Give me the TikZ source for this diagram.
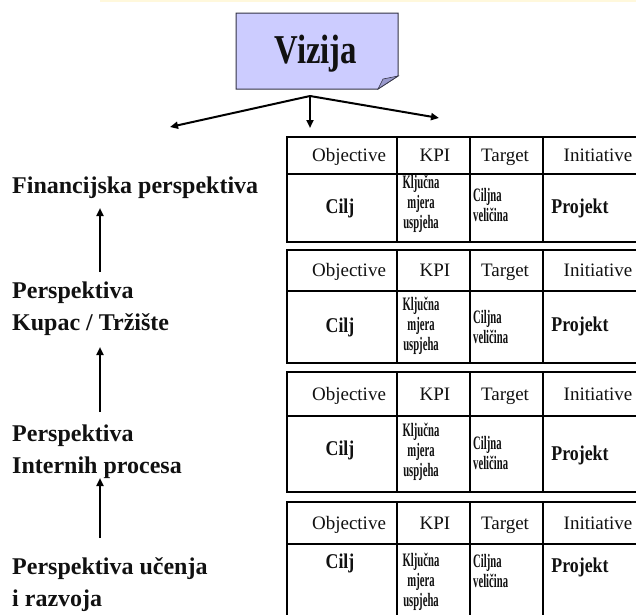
\documentclass[tikz,border=0pt]{standalone}
\usepackage{fontspec}
\setmainfont{Liberation Serif}
\newfontfamily\fcond[FakeStretch=0.56]{Liberation Serif}
\newfontfamily\fmed[FakeStretch=0.85]{Liberation Serif}
\newfontfamily\fviz[FakeStretch=0.8]{Liberation Serif}
\usetikzlibrary{arrows.meta}
\definecolor{vizfill}{HTML}{CCCCFF}
\definecolor{vizfold}{HTML}{9999CC}
\definecolor{vizline}{HTML}{333344}
\definecolor{strip}{HTML}{FFF8DC}
\definecolor{ink}{HTML}{111111}
\tikzset{
  hdr/.style={anchor=base, inner sep=0pt, text=ink, font=\fontsize{19}{22}\selectfont},
  bigcell/.style={inner sep=0pt, text=ink, font=\fmed\bfseries\fontsize{21}{24}\selectfont},
  smallcell/.style={inner sep=0pt, text=ink, font=\fcond\bfseries\fontsize{19}{20}\selectfont},
  persp/.style={anchor=base west, align=left, inner sep=0pt, text=ink, font=\bfseries\fontsize{24}{32}\selectfont},
  conn/.style={line width=2pt, -{Triangle[width=7pt,length=8pt]}},
  outerline/.style={line width=2.6pt},
  innerline/.style={line width=2pt},
}
% #1 prefix, #2 top, #3 mid, #4 bottom, #5 y Cilj, #6 y KPI, #7 y Target, #8 y Projekt
\newcommand\bsctable[8]{%
  \draw[innerline] (397,#2) -- (397,#4) (470,#2) -- (470,#4) (543,#2) -- (543,#4) (287,#3) -- (640,#3);
  \draw[outerline] (287,#2) rectangle (640,#4);
  \node[hdr] (#1obj) at (349,{(#2+#3)/2+6}) {Objective};
  \node[hdr] (#1kpi) at (435,{(#2+#3)/2+6}) {KPI};
  \node[hdr] (#1tgt) at (505,{(#2+#3)/2+6}) {Target};
  \node[hdr] (#1ini) at (598,{(#2+#3)/2+6}) {Initiative};
  \node[bigcell] (#1cilj) at (340,#5) {Cilj};
  \node[smallcell, align=center] (#1mjera) at (421,#6) {Ključna\\mjera\\uspjeha};
  \node[smallcell, align=left, anchor=west] (#1vel) at (473,#7) {Ciljna\\veličina};
  \node[bigcell] (#1proj) at (580,#8) {Projekt};
}
\begin{document}
\begin{tikzpicture}[x=1pt, y=-1pt]
  \useasboundingbox (0,0) rectangle (636,614);
  \clip (0,0) rectangle (636,614);
  \fill[white] (0,0) rectangle (636,614);
  \fill[strip] (100,0) rectangle (636,2);

  % Vizija box with folded corner
  \filldraw[fill=vizfill, draw=vizline, line width=1pt]
    (236,13) -- (398,13) -- (398,76) -- (378,89) -- (236,89) -- cycle;
  \filldraw[fill=vizfold, draw=vizline, line width=0.6pt]
    (378,89) -- (398,76) -- (383,79) -- cycle;
  \node[anchor=base, inner sep=0pt, text=ink, font=\fviz\bfseries\fontsize{41}{44}\selectfont] (viz) at (316,63) {Vizija};

  \coordinate (split) at (310,96);
  \coordinate (tl) at (170,127);
  \coordinate (tm) at (310,128);
  \coordinate (tr) at (439,118);
  \draw[conn] (split) -- (tl);
  \draw[conn] (split) -- (tm);
  \draw[conn] (split) -- (tr);

  % perspectives (base = baseline of the last line)
  \node[persp] (fin) at (12,193) {Financijska perspektiva};
  \node[persp] (kup) at (12,330) {Perspektiva\\Kupac / Tržište};
  \node[persp] (int) at (12,473) {Perspektiva\\Internih procesa};
  \node[persp] (uce) at (12,606) {Perspektiva učenja\\i razvoja};

  \coordinate (a1s) at (100,272);
  \coordinate (a1e) at (100,208);
  \coordinate (a2s) at (100,412);
  \coordinate (a2e) at (100,347);
  \coordinate (a3s) at (100,538);
  \coordinate (a3e) at (100,478);
  \draw[conn] (a1s) -- (a1e);
  \draw[conn] (a2s) -- (a2e);
  \draw[conn] (a3s) -- (a3e);

  % tables
  \bsctable{ta}{137}{174}{242}{208}{204}{205}{208}
  \bsctable{tb}{250}{291}{363}{327}{326}{327}{326}
  \bsctable{tc}{372}{416}{492}{450}{452}{453}{455}
  \bsctable{td}{502}{544}{620}{563}{582}{571}{567}
\end{tikzpicture}
\end{document}
